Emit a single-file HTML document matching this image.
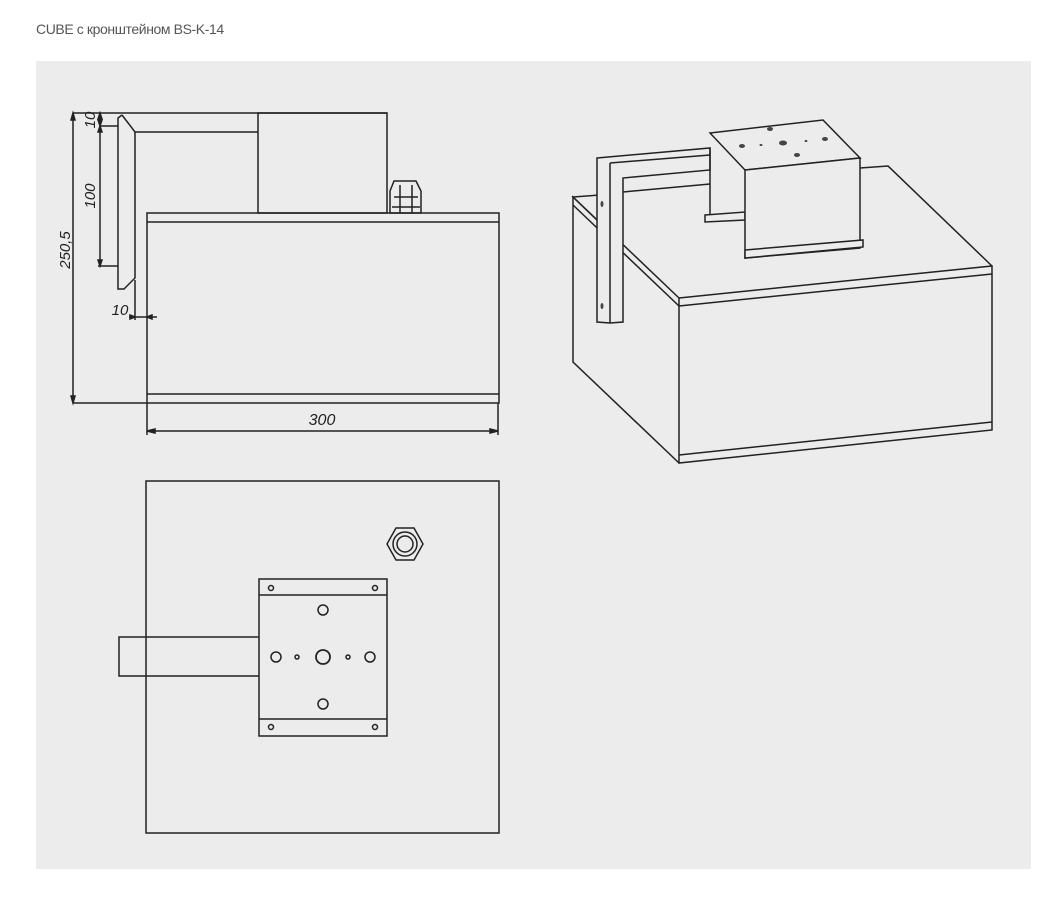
<!DOCTYPE html>
<html><head><meta charset="utf-8"><style>
html,body{margin:0;padding:0;background:#fff;width:1057px;height:898px;overflow:hidden}
.t{position:absolute;left:36px;top:21px;font:14px "Liberation Sans",sans-serif;color:#555;letter-spacing:-0.4px}
.p{position:absolute;left:36px;top:61px;width:995px;height:808px;background:#ececec}
svg{position:absolute;left:0;top:0}
</style></head><body>
<div class="t">CUBE с кронштейном BS-K-14</div>
<div class="p"></div>
<svg width="1057" height="898" viewBox="0 0 1057 898" fill="none" stroke="#222" stroke-width="1.5" font-family="Liberation Sans, sans-serif">
<!-- FRONT VIEW -->
<line x1="73" y1="113" x2="387" y2="113"/>
<line x1="73" y1="113" x2="73" y2="403"/>
<line x1="73" y1="403" x2="147" y2="403"/>
<rect x="258" y="113" width="129" height="100"/>
<polyline points="122,115 118,118 118,289 124,289 135,278 135,132 258,132"/>
<line x1="122" y1="115" x2="135" y2="132"/>
<line x1="100" y1="113" x2="100" y2="266"/>
<line x1="100" y1="126" x2="118" y2="126"/>
<line x1="98" y1="266" x2="118" y2="266"/>
<line x1="135" y1="280" x2="135" y2="320"/>
<line x1="129" y1="317" x2="157" y2="317"/>
<path d="M135 317l-5-2v4zM147 317l5-2v4z" fill="#222"/>
<rect x="147" y="213" width="352" height="190"/>
<line x1="147" y1="222" x2="499" y2="222"/>
<line x1="147" y1="394" x2="499" y2="394"/>
<path d="M390 213v-22l4-10h22l5 10v22zM394 197h24M392 207h28M400 185v28M412 185v28" />
<line x1="147" y1="403" x2="147" y2="435"/>
<line x1="498" y1="403" x2="498" y2="435"/>
<line x1="147" y1="431" x2="498" y2="431"/>
<path d="M147 431l8-2v4zM498 431l-8-2v4z" fill="#222"/>
<path d="M73 113l-2 7h4zM73 403l-2-7h4zM100 113l-2 6h4zM100 126l-2-6h4zM100 126l-2 6h4zM100 266l-2-6h4z" fill="#222"/>
<g fill="#222" stroke="none" font-style="italic" font-size="15">
<text x="322" y="425" text-anchor="middle" font-size="16">300</text>
<text x="120" y="315" text-anchor="middle">10</text>
<text transform="translate(95,120) rotate(-90)" text-anchor="middle">10</text>
<text transform="translate(95,196) rotate(-90)" text-anchor="middle">100</text>
<text transform="translate(70,250) rotate(-90)" text-anchor="middle">250,5</text>
</g>
<!-- ISO VIEW -->
<polygon points="679,298 992,266 992,430 679,463" />
<line x1="679" y1="306" x2="992" y2="274"/>
<line x1="679" y1="455" x2="992" y2="422"/>
<polyline points="679,298 573,197 573,362 679,463"/>
<line x1="573" y1="205" x2="679" y2="306"/>
<polyline points="623,245 573,197 600,195"/>
<polyline points="860,168 888,166 992,266"/>
<polygon points="597,158 710,148 710,170 623,178 623,322 610,323 597,322" fill="#ececec"/>
<line x1="610" y1="163" x2="610" y2="323"/>
<line x1="610" y1="163" x2="710" y2="155"/>
<line x1="623" y1="192" x2="710" y2="184"/>
<line x1="710" y1="148" x2="710" y2="215"/>
<polygon points="705,215 745,212 745,220 705,222" fill="#ececec"/>
<polygon points="710,133 823,120 860,158 745,170" fill="#ececec"/>
<polygon points="745,170 860,158 860,248 745,258" fill="#ececec"/>
<polygon points="745,250 863,240 863,247 745,258" fill="#ececec"/>
<g fill="#444" stroke="none">
<ellipse cx="770" cy="129" rx="3" ry="2"/><ellipse cx="742" cy="146" rx="3" ry="2"/><ellipse cx="761" cy="145" rx="1.5" ry="1"/>
<ellipse cx="783" cy="143" rx="4" ry="2.5"/><ellipse cx="806" cy="141" rx="1.5" ry="1"/><ellipse cx="825" cy="139" rx="3" ry="2"/><ellipse cx="797" cy="155" rx="3" ry="2"/>
<ellipse cx="602" cy="204" rx="1.5" ry="3"/><ellipse cx="602" cy="306" rx="1.5" ry="3"/>
</g>
<!-- BOTTOM VIEW -->
<rect x="146" y="481" width="353" height="352"/>
<path d="M146 637H119v39h27M146 676H259M146 637H259"/>
<rect x="259" y="579" width="128" height="157"/>
<line x1="259" y1="595" x2="387" y2="595"/>
<line x1="259" y1="719" x2="387" y2="719"/>
<circle cx="271" cy="588" r="2.5"/><circle cx="375" cy="588" r="2.5"/><circle cx="271" cy="727" r="2.5"/><circle cx="375" cy="727" r="2.5"/>
<circle cx="323" cy="610" r="5"/><circle cx="323" cy="704" r="5"/>
<circle cx="276" cy="657" r="5"/><circle cx="297" cy="657" r="2"/><circle cx="323" cy="657" r="7" stroke-width="1.8"/><circle cx="348" cy="657" r="2"/><circle cx="370" cy="657" r="5"/>
<polygon points="387,544 396,528 414,528 423,544 414,560 396,560"/>
<circle cx="405" cy="544" r="12"/><circle cx="405" cy="544" r="8"/>
</svg>
</body></html>
